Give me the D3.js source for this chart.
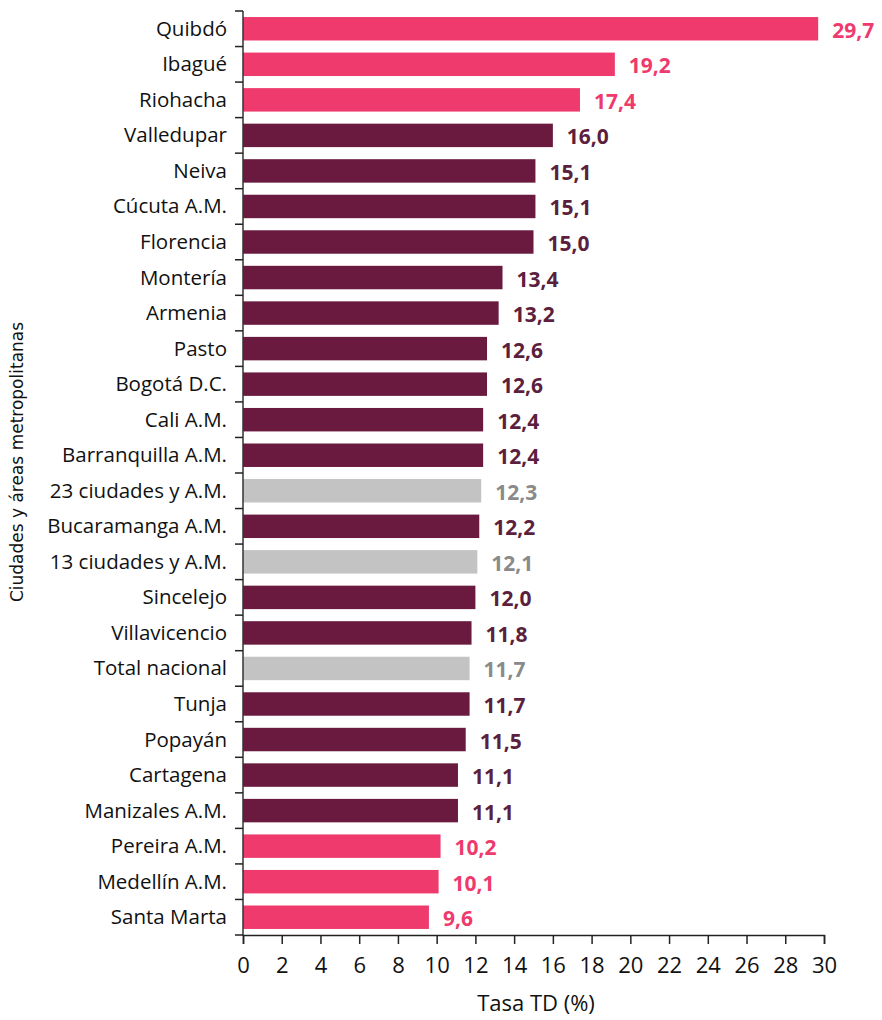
<!DOCTYPE html>
<html><head><meta charset="utf-8">
<script src="https://cdn.jsdelivr.net/npm/d3@7"></script>
<style>
body{margin:0;background:#fff;}
svg{display:block;}
</style></head>
<body>
<script>
const categories = ["Quibdó","Ibagué","Riohacha","Valledupar","Neiva","Cúcuta A.M.","Florencia","Montería","Armenia","Pasto","Bogotá D.C.","Cali A.M.","Barranquilla A.M.","23 ciudades y A.M.","Bucaramanga A.M.","13 ciudades y A.M.","Sincelejo","Villavicencio","Total nacional","Tunja","Popayán","Cartagena","Manizales A.M.","Pereira A.M.","Medellín A.M.","Santa Marta"];
const values = [29.7,19.2,17.4,16.0,15.1,15.1,15.0,13.4,13.2,12.6,12.6,12.4,12.4,12.3,12.2,12.1,12.0,11.8,11.7,11.7,11.5,11.1,11.1,10.2,10.1,9.6];
const groups = ["high","high","high","mid","mid","mid","mid","mid","mid","mid","mid","mid","mid","agg","mid","agg","mid","mid","agg","mid","mid","mid","mid","low","low","low"];
const xTicks = [0,2,4,6,8,10,12,14,16,18,20,22,24,26,28,30];
const xTitle = "Tasa TD (%)";
const yTitle = "Ciudades y áreas metropolitanas";

const barColor = {high:"#EE3A6D", low:"#EE3A6D", mid:"#6A1A3F", agg:"#C3C3C3"};
const labelColor = {high:"#EE3A6D", low:"#EE3A6D", mid:"#5C1F3E", agg:"#8A8A8A"};

const W=882,H=1020;
const mLeft=243, mRight=824, mTop=11, mBottom=935;
const svg=d3.select("body").append("svg").attr("width",W).attr("height",H);

const x=d3.scaleLinear().domain([0,30]).range([mLeft,mRight]);
const y=d3.scaleBand().domain(categories).range([mTop,mBottom]).paddingInner(0.34).paddingOuter(0.17);

const data=categories.map((c,i)=>({c,v:values[i],g:groups[i]}));

svg.selectAll("rect.bar").data(data).join("rect").attr("class","bar")
  .attr("x",x(0)).attr("y",d=>y(d.c)).attr("width",d=>x(d.v)-x(0)).attr("height",y.bandwidth())
  .attr("fill",d=>barColor[d.g]);

svg.selectAll("text.val").data(data).join("text").attr("class","val")
  .attr("x",d=>x(d.v)+14).attr("y",d=>y(d.c)+y.bandwidth()/2+9)
  .attr("fill",d=>labelColor[d.g])
  .style("font-family","'Open Sans',sans-serif").style("font-weight","bold").style("font-size","21px")
  .text(d=>d3.format(".1f")(d.v).replace(".",","));

// y axis: line and ticks between bands
const step=y.step();
const yb=[];
for(let i=0;i<=categories.length;i++) yb.push(mTop+i*step);
svg.append("line").attr("x1",mLeft).attr("x2",mLeft).attr("y1",mTop).attr("y2",mBottom).attr("stroke","#333").attr("stroke-width",1.5);
svg.selectAll("line.ytick").data(yb).join("line").attr("class","ytick")
  .attr("x1",mLeft-8).attr("x2",mLeft).attr("y1",d=>d).attr("y2",d=>d).attr("stroke","#222").attr("stroke-width",1.5);
svg.selectAll("text.cat").data(data).join("text").attr("class","cat")
  .attr("x",mLeft-16).attr("y",d=>y(d.c)+y.bandwidth()/2+7)
  .attr("text-anchor","end").attr("fill","#111")
  .style("font-family","'Open Sans',sans-serif").style("font-size","20.5px")
  .text(d=>d.c);

// x axis
const xa=svg.append("g").attr("transform",`translate(0,${mBottom})`)
  .call(d3.axisBottom(x).tickValues(xTicks).tickSize(9).tickPadding(13).tickFormat(d3.format("d")));
xa.select(".domain").attr("stroke","#222").attr("stroke-width",1.5);
xa.selectAll(".tick line").attr("stroke","#222").attr("stroke-width",1.5);
xa.selectAll("text").style("font-family","'Open Sans',sans-serif").style("font-size","22px").attr("fill","#111");

svg.append("text").attr("x",536).attr("y",1011).attr("text-anchor","middle")
  .style("font-family","'Open Sans',sans-serif").style("font-size","22px").attr("fill","#111").text(xTitle);

svg.append("text").attr("transform",`translate(23,462) rotate(-90)`).attr("text-anchor","middle")
  .style("font-family","'DejaVu Sans',sans-serif").style("font-size","17px").attr("fill","#111").text(yTitle);
</script>
</body></html>
